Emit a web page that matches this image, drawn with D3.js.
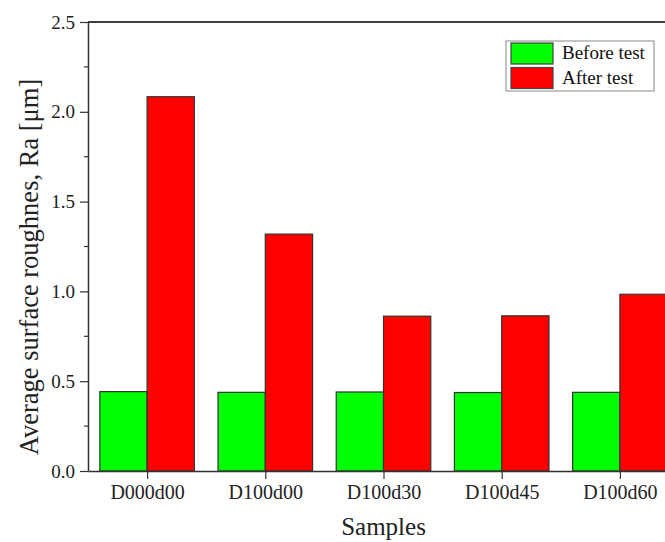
<!DOCTYPE html>
<html>
<head>
<meta charset="utf-8">
<script src="https://cdn.jsdelivr.net/npm/d3@7"></script>
<style>
  html, body { margin: 0; padding: 0; background: #fff; overflow: hidden; }
  svg { display: block; font-family: "Liberation Serif", "Times New Roman", serif; }
</style>
</head>
<body>
<div id="chart"></div>
<script>
// Data
const categories = ["D000d00", "D100d00", "D100d30", "D100d45", "D100d60"];
const beforeTest = [0.442, 0.438, 0.440, 0.437, 0.438];
const afterTest = [2.084, 1.319, 0.862, 0.864, 0.984];
const seriesNames = ["Before test", "After test"];
const yTicks = [0.0, 0.5, 1.0, 1.5, 2.0, 2.5];
const yMinorTicks = [0.25, 0.75, 1.25, 1.75, 2.25];

const width = 665, height = 542;
const margin = { top: 22, right: -14, bottom: 71, left: 88 };
const innerWidth = width - margin.left - margin.right;
const innerHeight = height - margin.top - margin.bottom;

const colors = ["#00ff00", "#ff0000"];

const svg = d3.select("#chart")
    .append("svg")
    .attr("width", width)
    .attr("height", height);

const g = svg.append("g")
    .attr("transform", `translate(${margin.left}, ${margin.top})`);

// x positions in category units (centres at 1..n), y in Ra
const xScale = d3.scaleLinear().domain([0.5, categories.length + 0.5]).range([0, innerWidth]);
const yScale = d3.scaleLinear().domain([0, 2.5]).range([innerHeight, 0]);
const barW = 0.4; // width of one bar in category units

// Bars
const series = [beforeTest, afterTest];
series.forEach((values, s) => {
    g.selectAll(".bar-" + s)
        .data(values)
        .enter()
        .append("rect")
        .attr("class", "bar-" + s)
        .attr("x", (d, i) => xScale(i + 1 + (s === 0 ? -barW : 0)))
        .attr("width", xScale(1 + barW) - xScale(1))
        .attr("y", d => yScale(d))
        .attr("height", d => yScale(0) - yScale(d))
        .attr("fill", colors[s])
        .attr("stroke", "#333")
        .attr("stroke-width", 1.2);
});

// Top frame line
g.append("line")
    .attr("x1", 0).attr("x2", innerWidth)
    .attr("y1", 0).attr("y2", 0)
    .attr("stroke", "#000")
    .attr("stroke-width", 1.5);

// Y axis
const yAxis = d3.axisLeft(yScale)
    .tickValues(yTicks)
    .tickFormat(d3.format(".1f"))
    .tickSizeInner(8)
    .tickSizeOuter(0)
    .tickPadding(5);

const yG = g.append("g").attr("class", "y-axis").call(yAxis);
yG.select(".domain").attr("stroke", "#333").attr("stroke-width", 1.5);
yG.selectAll(".tick line").attr("stroke", "#333").attr("stroke-width", 1.2);
yG.selectAll(".tick text")
    .style("font-size", "19px")
    .style("font-family", "Liberation Serif")
    .attr("fill", "#222");

// Minor y ticks
g.append("g")
    .selectAll("line")
    .data(yMinorTicks)
    .enter()
    .append("line")
    .attr("x1", -4).attr("x2", 0)
    .attr("y1", d => yScale(d)).attr("y2", d => yScale(d))
    .attr("stroke", "#333")
    .attr("stroke-width", 1.2);

// X axis
const xAxis = d3.axisBottom(xScale)
    .tickValues(d3.range(1, categories.length + 1))
    .tickFormat(d => categories[d - 1])
    .tickSizeInner(8)
    .tickSizeOuter(0)
    .tickPadding(6);

const xG = g.append("g")
    .attr("class", "x-axis")
    .attr("transform", `translate(0, ${innerHeight})`)
    .call(xAxis);
xG.select(".domain").attr("stroke", "#333").attr("stroke-width", 1.5);
xG.selectAll(".tick line").attr("stroke", "#333").attr("stroke-width", 1.2);
xG.selectAll(".tick text")
    .style("font-size", "20px")
    .style("font-family", "Liberation Serif")
    .attr("fill", "#222");

// Axis titles
svg.append("text")
    .attr("x", margin.left + innerWidth / 2)
    .attr("y", 535)
    .style("text-anchor", "middle")
    .style("font-size", "25px")
    .attr("fill", "#222")
    .text("Samples");

svg.append("text")
    .attr("transform", "rotate(-90)")
    .attr("x", -267)
    .attr("y", 38)
    .style("text-anchor", "middle")
    .style("font-size", "26.5px")
    .attr("fill", "#222")
    .text("Average surface roughnes, Ra [μm]");

// Legend
const legend = svg.append("g").attr("transform", "translate(506, 41)");
legend.append("rect")
    .attr("width", 148).attr("height", 50)
    .attr("fill", "#fff")
    .attr("stroke", "#888")
    .attr("stroke-width", 1);

seriesNames.forEach((name, i) => {
    legend.append("rect")
        .attr("x", 5).attr("y", 2 + i * 24.5)
        .attr("width", 42).attr("height", 21)
        .attr("fill", colors[i])
        .attr("stroke", "#444")
        .attr("stroke-width", 1.2);
    legend.append("text")
        .attr("x", 56).attr("y", 18 + i * 24.5)
        .style("font-size", "19px")
        .attr("fill", "#111")
        .text(name);
});
</script>
</body>
</html>
